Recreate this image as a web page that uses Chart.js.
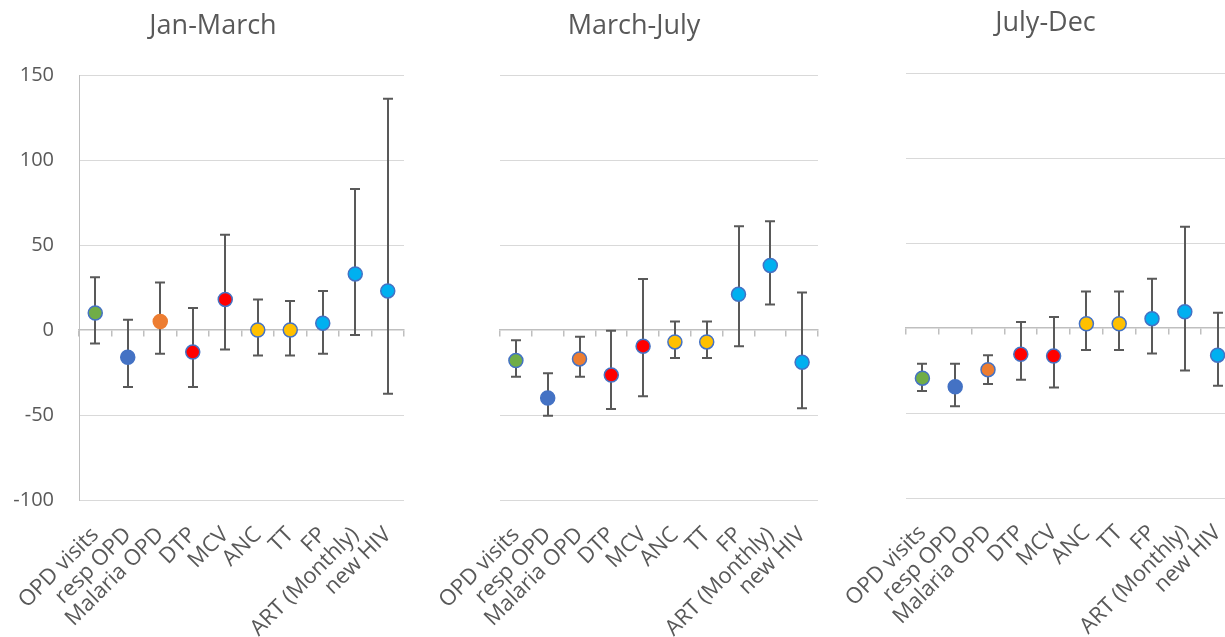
<!DOCTYPE html>
<html>
<head>
<meta charset="utf-8">
<title>Change by period</title>
<script src="https://cdn.jsdelivr.net/npm/chart.js@4"></script>
<style>
    html, body { margin: 0; padding: 0; background: #fff; overflow: hidden; width: 1225px; height: 637px; }
    .panel { position: absolute; top: 0; }
</style>
</head>
<body>
<div class="panel" style="left:0px"><canvas id="janMarch" width="426" height="637"></canvas></div>
<div class="panel" style="left:426px"><canvas id="marchJuly" width="416" height="637"></canvas></div>
<div class="panel" style="left:840px"><canvas id="julyDec" width="411" height="637"></canvas></div>
<script>
// Categories shared by the three panels
const categories = ['OPD visits', 'resp OPD', 'Malaria OPD', 'DTP', 'MCV', 'ANC', 'TT', 'FP', 'ART (Monthly)', 'new HIV'];
const yTicks = [-100, -50, 0, 50, 100, 150];

// Jan-March
const janMarchValues = [10, -16, 5, -13, 18, 0, 0, 4, 33, 23];
const janMarchLow = [-8, -33.5, -14, -33.5, -11.5, -15, -15, -14, -3, -37.5];
const janMarchHigh = [31, 6, 28, 13, 56, 18, 17, 23, 83, 136];

// March-July
const marchJulyValues = [-18, -40, -17, -26.5, -9.5, -7, -7, 21, 38, -19];
const marchJulyLow = [-27.5, -50.5, -27.5, -46.5, -39, -16.5, -16.5, -9.5, 15, -46];
const marchJulyHigh = [-6, -25.5, -4, -0.5, 30, 5, 5, 61, 64, 22];

// July-Dec
const julyDecValues = [-29.5, -34.5, -24.5, -15.5, -16.5, 2.5, 2.5, 5.5, 9.5, -16];
const julyDecLow = [-37, -46, -33, -30.5, -35, -13, -13, -15, -25, -34];
const julyDecHigh = [-21, -21, -16, 3.5, 6.5, 21.5, 21.5, 29, 59.5, 9];

// marker colours (Office palette)
const fillColors = ['#70AD47', '#4472C4', '#ED7D31', '#FF0000', '#FF0000', '#FFC000', '#FFC000', '#00B0F0', '#00B0F0', '#00B0F0'];
const edge = '#4472C4';
const textColor = '#595959';
const fontFamily = '"Open Sans", "Noto Sans", sans-serif';

// draws the error bars from errLow / errHigh through the y scale
const errorBars = {
    id: 'errorBars',
    beforeDatasetsDraw(chart) {
        const ctx = chart.ctx;
        const yScale = chart.scales.y;
        chart.data.datasets.forEach((ds, i) => {
            const meta = chart.getDatasetMeta(i);
            ctx.save();
            ctx.strokeStyle = '#595959';
            ctx.lineWidth = 2;
            meta.data.forEach((pt, j) => {
                const top = yScale.getPixelForValue(ds.errHigh[j]);
                const bot = yScale.getPixelForValue(ds.errLow[j]);
                const x = Math.round(pt.x);
                ctx.beginPath();
                ctx.moveTo(x, top);
                ctx.lineTo(x, bot);
                ctx.moveTo(x - 5, top);
                ctx.lineTo(x + 5, top);
                ctx.moveTo(x - 5, bot);
                ctx.lineTo(x + 5, bot);
                ctx.stroke();
            });
            ctx.restore();
        });
    }
};

function makePanel(id, title, values, low, high, opts) {
    const borders = opts.borders || fillColors.map(() => edge);
    return new Chart(document.getElementById(id), {
        type: 'line',
        data: {
            labels: categories,
            datasets: [{
                data: values,
                errLow: low,
                errHigh: high,
                showLine: false,
                pointRadius: 7,
                pointHoverRadius: 7,
                pointBorderWidth: 1.5,
                pointBackgroundColor: fillColors,
                pointBorderColor: borders,
                xAxisID: 'x',
                yAxisID: 'y'
            }]
        },
        options: {
            responsive: false,
            animation: false,
            layout: { padding: 0 },
            plugins: {
                legend: { display: false },
                tooltip: { enabled: false },
                title: {
                    display: true,
                    text: title,
                    color: textColor,
                    font: { family: fontFamily, size: 27, weight: 'normal', lineHeight: 1.2 },
                    padding: { top: opts.titleTop, bottom: opts.titleBottom }
                }
            },
            scales: {
                x: {
                    type: 'category',
                    position: 'bottom',
                    offset: true,
                    grid: { display: false, drawTicks: false },
                    border: { display: false },
                    ticks: {
                        autoSkip: false,
                        minRotation: 45,
                        maxRotation: 45,
                        padding: 22,
                        color: textColor,
                        font: { family: fontFamily, size: 22 }
                    },
                    afterFit: scale => {
                        scale.height = opts.xHeight;
                        scale.paddingLeft = 0;
                        scale.paddingRight = 0;
                    }
                },
                x0: {
                    type: 'category',
                    axis: 'x',
                    position: { y: 0 },
                    offset: true,
                    ticks: { display: false },
                    grid: {
                        offset: true,
                        drawOnChartArea: false,
                        drawTicks: true,
                        tickLength: 6,
                        color: '#bfbfbf',
                        lineWidth: 1.5
                    },
                    border: { display: true, color: '#bfbfbf', width: 1.5 }
                },
                y: {
                    min: yTicks[0],
                    max: yTicks[yTicks.length - 1],
                    afterBuildTicks: scale => { scale.ticks = yTicks.map(v => ({ value: v })); },
                    grid: {
                        drawTicks: false,
                        color: c => c.tick && c.tick.value === 0 ? 'rgba(0,0,0,0)' : '#d9d9d9',
                        lineWidth: 1
                    },
                    border: { display: opts.showY, color: '#bfbfbf', width: 1 },
                    ticks: {
                        display: opts.showY,
                        padding: 25,
                        color: textColor,
                        font: { family: fontFamily, size: 20 }
                    },
                    afterFit: scale => { scale.width = opts.yWidth; }
                },
                // empty spacer on the right so the title stays centred on the whole panel
                yRight: {
                    axis: 'y',
                    position: 'right',
                    grid: { display: false },
                    border: { display: false },
                    ticks: { display: false },
                    afterFit: scale => { scale.width = opts.rightWidth; }
                }
            }
        },
        plugins: [errorBars]
    });
}

const janBorders = fillColors.map((c, i) => i === 2 ? c : edge);

makePanel('janMarch', 'Jan-March', janMarchValues, janMarchLow, janMarchHigh,
    { showY: true, yWidth: 79, rightWidth: 22, titleTop: 10, titleBottom: 32.6, xHeight: 137, borders: janBorders });
makePanel('marchJuly', 'March-July', marchJulyValues, marchJulyLow, marchJulyHigh,
    { showY: false, yWidth: 74, rightWidth: 24, titleTop: 10, titleBottom: 32.6, xHeight: 137 });
makePanel('julyDec', 'July-Dec', julyDecValues, julyDecLow, julyDecHigh,
    { showY: false, yWidth: 66, rightWidth: 17, titleTop: 7, titleBottom: 33.6, xHeight: 139 });
</script>
</body>
</html>
